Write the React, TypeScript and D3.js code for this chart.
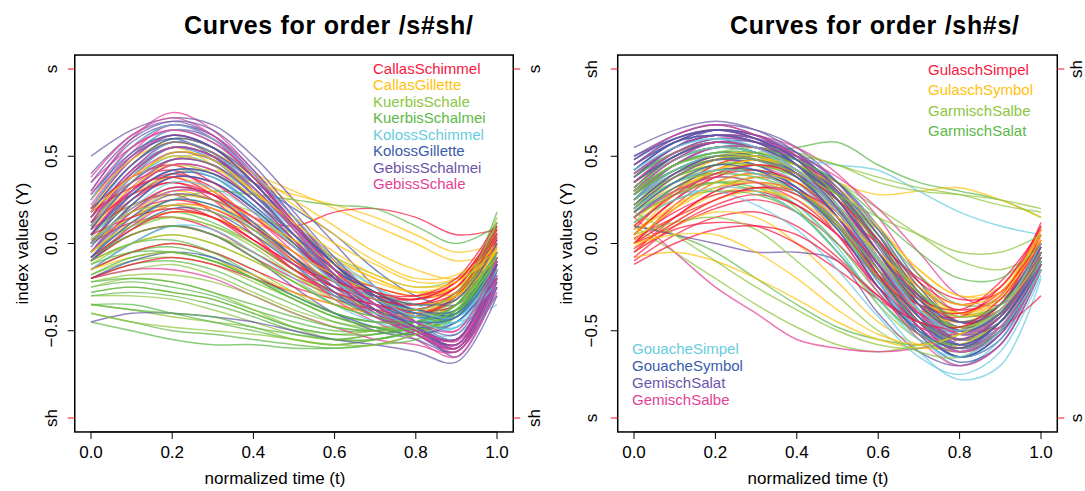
import { useEffect, useRef } from "react";
import * as d3 from "d3";

// normalized time samples
const T_GRID = [0, 0.1, 0.2, 0.3, 0.4, 0.5, 0.6, 0.7, 0.8, 0.9, 1.0];

const WORD_COLORS = [
  "#f8173e", // red
  "#ffc20e", // gold
  "#8dc63f", // yellow-green
  "#5db848", // green
  "#67cbe0", // sky blue
  "#3a5baa", // blue
  "#6a55a8", // purple
  "#e43f96", // pink
];

const SSH_WORDS = [
  "CallasSchimmel",
  "CallasGillette",
  "KuerbisSchale",
  "KuerbisSchalmei",
  "KolossSchimmel",
  "KolossGillette",
  "GebissSchalmei",
  "GebissSchale",
];

const SHS_WORDS = [
  "GulaschSimpel",
  "GulaschSymbol",
  "GarmischSalbe",
  "GarmischSalat",
  "GouacheSimpel",
  "GouacheSymbol",
  "GemischSalat",
  "GemischSalbe",
];

// index values x100, one row per token, sampled at T_GRID
const CALLAS_SCHIMMEL = [
  [5, 25, 35, 25, 5, -15, -30, -38, -42, -30, 5],
  [-5, 15, 22, 15, 0, -15, -25, -32, -35, -25, 8],
  [10, 30, 40, 32, 12, -8, -22, -30, -35, -28, 2],
  [0, 12, 15, 8, -5, -18, -28, -35, -38, -28, 6],
  [15, 35, 42, 30, 15, 10, 18, 20, 15, 5, 8],
  [-10, 5, 10, 5, -8, -20, -30, -35, -40, -32, 0],
  [8, 22, 28, 18, 2, -12, -25, -30, -32, -25, 10],
  [-15, -5, 0, -5, -15, -25, -32, -38, -40, -30, -2],
  [20, 38, 45, 35, 18, -2, -20, -30, -32, -22, 5],
  [2, 18, 25, 20, 8, -8, -22, -28, -38, -35, 3],
  [-20, -12, -8, -12, -20, -28, -35, -40, -42, -30, 0],
  [12, 28, 35, 28, 10, -5, -18, -25, -30, -22, 10],
  [0, 20, 32, 28, 15, -2, -18, -28, -30, -20, 12],
  [-8, 8, 18, 15, 2, -15, -28, -35, -38, -28, 4],
  [18, 32, 38, 28, 10, -10, -25, -32, -35, -25, 6],
  [5, 15, 20, 15, 2, -12, -22, -28, -32, -22, 8],
];
const CALLAS_GILLETTE = [
  [10, 30, 48, 50, 40, 30, 20, 10, 0, -10, -5],
  [5, 25, 40, 42, 35, 28, 22, 15, 5, -5, 0],
  [0, 20, 30, 25, 10, -5, -20, -28, -32, -25, -5],
  [15, 40, 55, 45, 25, 5, -15, -25, -30, -25, -2],
  [-5, 10, 18, 15, 5, -10, -22, -30, -35, -30, -8],
  [20, 45, 60, 55, 40, 25, 10, -5, -15, -20, -5],
  [-10, 0, 5, 0, -10, -22, -32, -38, -42, -35, -10],
  [8, 28, 38, 30, 15, 0, -15, -25, -30, -28, -3],
  [0, 15, 25, 22, 12, 2, -10, -20, -28, -25, -8],
  [12, 35, 52, 48, 30, 10, -8, -20, -28, -25, -4],
  [-15, -8, -5, -10, -18, -28, -35, -40, -40, -30, -5],
  [10, 32, 45, 40, 28, 15, 0, -12, -22, -20, 0],
  [25, 48, 58, 52, 38, 22, 5, -10, -20, -18, -2],
  [2, 18, 28, 25, 15, 2, -12, -22, -28, -22, -6],
  [-5, 12, 22, 20, 10, -5, -18, -28, -35, -30, -8],
  [18, 38, 50, 45, 30, 12, -5, -18, -25, -22, -3],
];
const KUERBIS_SCHALE = [
  [-20, -15, -12, -18, -28, -38, -45, -48, -45, -35, -5],
  [-10, 5, 10, 5, -5, -18, -30, -38, -42, -35, -8],
  [-30, -30, -32, -38, -45, -52, -55, -52, -48, -38, -10],
  [0, 15, 20, 15, 5, -10, -25, -35, -40, -30, 15],
  [-25, -20, -22, -28, -38, -48, -55, -55, -50, -40, -12],
  [-15, -5, 0, -5, -15, -28, -40, -45, -42, -30, 10],
  [5, 22, 28, 25, 18, 5, -8, -18, -25, -20, 5],
  [-35, -38, -42, -45, -48, -55, -58, -55, -50, -40, -15],
  [-18, -10, -8, -12, -22, -32, -42, -48, -48, -38, -8],
  [-8, 8, 15, 10, 0, -15, -28, -38, -45, -38, 12],
  [-28, -25, -28, -32, -40, -48, -52, -50, -45, -35, -8],
  [-12, 0, 5, 0, -10, -22, -35, -42, -45, -35, 5],
  [-5, 10, 15, 10, -2, -18, -32, -40, -42, -32, 8],
  [-22, -18, -18, -22, -30, -40, -48, -50, -48, -38, -10],
  [-40, -45, -48, -50, -52, -55, -58, -58, -52, -42, -15],
  [2, 18, 22, 18, 8, -8, -22, -32, -38, -28, 12],
];
const KUERBIS_SCHALMEI = [
  [-25, -22, -25, -30, -38, -45, -50, -50, -45, -35, -8],
  [-40, -45, -50, -52, -55, -58, -60, -58, -52, -40, -12],
  [-15, -5, -2, -8, -20, -32, -42, -48, -48, -38, -10],
  [-5, 10, 18, 12, 0, -15, -28, -38, -40, -30, 18],
  [-30, -28, -30, -35, -42, -50, -55, -52, -48, -38, -5],
  [-20, -12, -10, -15, -25, -35, -45, -50, -52, -40, -10],
  [0, 15, 25, 30, 28, 25, 22, 20, 10, 0, 10],
  [-35, -35, -40, -45, -50, -55, -58, -55, -50, -42, -15],
  [-10, 0, 2, -5, -18, -30, -40, -45, -45, -35, -5],
  [-45, -50, -55, -58, -58, -60, -60, -58, -55, -42, -18],
  [-18, -8, -5, -10, -20, -32, -42, -48, -50, -40, -8],
  [-28, -25, -28, -32, -40, -48, -52, -52, -48, -38, -10],
  [-8, 5, 10, 5, -8, -22, -35, -42, -45, -35, 12],
  [-35, -38, -40, -42, -48, -52, -55, -55, -50, -40, -12],
  [-12, -5, -5, -10, -20, -30, -40, -45, -45, -35, -5],
  [-22, -20, -22, -28, -35, -42, -48, -50, -48, -38, -8],
];
const KOLOSS_SCHIMMEL = [
  [10, 35, 50, 45, 25, 0, -20, -35, -42, -45, -35],
  [0, 25, 40, 38, 20, -2, -22, -35, -45, -48, -30],
  [15, 45, 60, 55, 35, 10, -12, -28, -38, -42, -20],
  [-10, 10, 25, 22, 8, -12, -30, -42, -50, -52, -25],
  [5, 30, 45, 40, 22, 0, -20, -32, -40, -45, -10],
  [20, 50, 65, 58, 38, 12, -10, -25, -35, -40, -15],
  [-5, 15, 30, 28, 12, -8, -28, -40, -48, -55, -30],
  [8, 38, 55, 48, 30, 8, -15, -30, -40, -42, -8],
  [-15, 0, 10, 8, -5, -20, -35, -45, -50, -48, -20],
  [12, 40, 58, 52, 32, 5, -18, -32, -42, -45, -5],
  [3, 28, 42, 38, 20, -2, -22, -35, -42, -40, -12],
  [18, 45, 58, 52, 32, 8, -15, -30, -40, -42, -18],
  [-8, 12, 25, 22, 8, -12, -30, -40, -45, -42, -15],
  [10, 35, 50, 45, 28, 5, -18, -32, -42, -45, -22],
  [25, 55, 68, 60, 40, 15, -8, -25, -38, -42, -10],
  [0, 20, 35, 32, 18, -2, -22, -35, -45, -48, -15],
];
const KOLOSS_GILLETTE = [
  [10, 38, 55, 50, 30, 5, -18, -32, -40, -38, -5],
  [5, 30, 48, 45, 28, 5, -15, -30, -38, -40, -10],
  [20, 48, 62, 55, 35, 10, -15, -30, -38, -35, 0],
  [-5, 18, 32, 28, 12, -8, -28, -40, -45, -40, -8],
  [15, 42, 58, 52, 32, 10, -12, -28, -38, -40, -12],
  [0, 25, 40, 38, 22, 2, -18, -32, -42, -42, -5],
  [25, 50, 60, 50, 30, 5, -15, -28, -35, -30, 2],
  [-10, 8, 20, 18, 5, -12, -30, -42, -48, -45, -15],
  [8, 35, 52, 48, 35, 20, 5, -15, -30, -35, -8],
  [-20, -10, -5, -8, -18, -30, -40, -48, -52, -45, -20],
  [12, 40, 55, 50, 32, 8, -15, -30, -40, -40, -8],
  [-2, 22, 38, 35, 20, 0, -20, -35, -42, -40, -10],
  [18, 45, 60, 55, 38, 12, -12, -28, -38, -38, -5],
  [5, 28, 42, 40, 25, 5, -15, -30, -40, -42, -12],
  [28, 52, 62, 55, 35, 10, -12, -28, -35, -32, 0],
  [-8, 12, 25, 22, 10, -8, -25, -38, -45, -42, -12],
];
const GEBISS_SCHALMEI = [
  [40, 62, 70, 62, 40, 12, -15, -35, -50, -55, -10],
  [20, 50, 65, 60, 40, 15, -10, -30, -45, -55, -15],
  [10, 40, 55, 50, 32, 8, -18, -38, -52, -60, -20],
  [50, 65, 72, 68, 50, 25, 0, -25, -45, -65, -25],
  [-5, 22, 38, 35, 20, 0, -22, -40, -52, -62, -18],
  [15, 42, 55, 48, 28, 5, -20, -38, -50, -55, -8],
  [-15, 0, 10, 5, -8, -25, -40, -50, -55, -62, -25],
  [25, 55, 68, 60, 38, 12, -12, -32, -48, -58, -12],
  [5, 30, 45, 42, 25, 2, -22, -40, -50, -58, -15],
  [-45, -40, -40, -42, -45, -50, -55, -58, -62, -68, -30],
  [30, 58, 68, 62, 42, 15, -12, -32, -48, -58, -18],
  [0, 28, 42, 40, 25, 2, -20, -38, -50, -58, -20],
  [18, 45, 58, 52, 35, 10, -15, -35, -48, -60, -15],
  [-8, 15, 28, 25, 12, -8, -28, -42, -52, -60, -22],
  [35, 60, 70, 65, 45, 18, -8, -30, -45, -52, -10],
  [8, 35, 48, 45, 28, 5, -18, -35, -48, -55, -12],
];
const GEBISS_SCHALE = [
  [30, 60, 75, 65, 42, 15, -12, -32, -45, -60, -15],
  [10, 38, 52, 48, 30, 5, -20, -38, -50, -62, -20],
  [20, 48, 62, 55, 35, 10, -15, -35, -48, -58, -10],
  [0, 25, 38, 35, 20, 0, -22, -40, -50, -55, -12],
  [35, 55, 65, 58, 40, 15, -10, -30, -42, -50, -5],
  [-10, 10, 22, 20, 8, -12, -32, -45, -55, -65, -22],
  [15, 42, 58, 52, 32, 8, -18, -35, -48, -58, -15],
  [-20, -15, -15, -20, -30, -40, -48, -55, -58, -62, -28],
  [5, 32, 48, 45, 28, 5, -18, -35, -48, -55, -10],
  [25, 52, 68, 60, 38, 12, -15, -35, -48, -56, -18],
  [22, 50, 62, 55, 35, 8, -18, -38, -50, -60, -18],
  [5, 30, 45, 42, 25, 2, -22, -40, -52, -58, -15],
  [38, 62, 72, 62, 40, 12, -15, -35, -48, -55, -12],
  [-5, 18, 30, 28, 15, -5, -25, -42, -52, -60, -20],
  [12, 40, 55, 50, 32, 8, -18, -38, -50, -55, -10],
  [28, 55, 65, 58, 38, 10, -15, -35, -45, -50, -8],
];

const GULASCH_SIMPEL = [
  [0, 20, 35, 40, 30, 5, -25, -45, -50, -35, 5],
  [-5, 15, 30, 38, 32, 12, -18, -40, -48, -38, 0],
  [5, 25, 42, 48, 40, 18, -12, -35, -45, -35, 8],
  [0, 10, 20, 25, 18, 0, -25, -45, -55, -42, -5],
  [-10, 5, 15, 18, 10, -8, -30, -48, -52, -40, -8],
  [8, 30, 45, 50, 45, 28, 0, -25, -38, -30, 10],
  [2, 18, 28, 30, 22, 5, -18, -35, -40, -30, 12],
  [-5, 8, 12, 10, 0, -15, -32, -45, -50, -48, -30],
  [0, 22, 38, 45, 40, 22, -5, -30, -45, -40, 2],
  [3, 15, 25, 32, 30, 18, 0, -20, -32, -28, 5],
  [-8, 10, 22, 28, 22, 5, -20, -38, -42, -25, 5],
  [5, 25, 38, 42, 35, 15, -12, -32, -38, -22, 8],
  [0, 15, 30, 35, 30, 12, -15, -35, -40, -28, 2],
  [-3, 12, 25, 32, 28, 10, -18, -40, -48, -35, -2],
  [10, 28, 40, 45, 40, 25, 2, -22, -35, -25, 10],
  [-12, 0, 8, 10, 5, -10, -30, -45, -48, -32, 0],
];
const GULASCH_SYMBOL = [
  [5, 25, 40, 45, 38, 20, -8, -30, -42, -35, 0],
  [10, 30, 45, 50, 45, 35, 28, 30, 32, 25, 15],
  [0, 15, 28, 32, 25, 5, -20, -40, -48, -38, -5],
  [15, 35, 48, 52, 45, 25, -5, -30, -45, -40, -2],
  [-5, 10, 18, 15, 0, -22, -45, -58, -60, -45, -10],
  [8, 20, 32, 38, 35, 25, 8, -15, -30, -28, 5],
  [20, 40, 50, 52, 42, 20, -10, -35, -48, -42, -5],
  [-8, -5, -10, -20, -32, -45, -55, -60, -58, -45, -12],
  [5, 28, 42, 48, 42, 25, 0, -25, -40, -38, 2],
  [12, 32, 42, 45, 38, 20, -5, -28, -40, -32, 8],
  [2, 20, 35, 40, 35, 18, -10, -32, -40, -30, 2],
  [10, 30, 42, 48, 45, 32, 10, -15, -30, -25, 5],
  [-2, 12, 25, 30, 25, 8, -18, -38, -45, -35, -5],
  [18, 38, 48, 50, 42, 22, -8, -32, -42, -32, 2],
  [5, 22, 32, 35, 30, 15, -5, -25, -35, -28, 8],
  [0, 5, 5, -5, -20, -38, -52, -58, -52, -38, -8],
];
const GARMISCH_SALBE = [
  [25, 40, 48, 50, 45, 35, 20, 5, -10, -15, -5],
  [20, 35, 45, 48, 50, 45, 35, 30, 28, 25, 20],
  [30, 42, 50, 48, 38, 15, -15, -40, -52, -42, -8],
  [10, -5, -20, -35, -48, -58, -62, -58, -50, -38, -10],
  [15, 30, 40, 42, 35, 15, -15, -40, -55, -45, -10],
  [35, 48, 55, 55, 48, 30, 5, -25, -45, -40, -12],
  [18, 32, 38, 35, 20, -5, -35, -55, -62, -50, -15],
  [28, 45, 52, 55, 52, 45, 38, 32, 28, 22, 18],
  [22, 38, 45, 45, 38, 20, -8, -35, -50, -40, -10],
  [5, 12, 15, 8, -10, -30, -50, -62, -65, -50, -15],
  [28, 42, 50, 50, 42, 25, -5, -32, -48, -40, -8],
  [15, 28, 35, 35, 28, 10, -18, -42, -55, -45, -12],
  [32, 48, 55, 52, 42, 22, -8, -35, -48, -38, -5],
  [22, 35, 40, 38, 30, 12, -15, -38, -48, -38, -8],
  [18, 5, -10, -25, -38, -50, -58, -60, -52, -40, -10],
  [30, 45, 50, 48, 40, 28, 15, 5, -5, -5, 5],
];
const GARMISCH_SALAT = [
  [25, 42, 50, 52, 55, 58, 45, 35, 30, 25, 15],
  [30, 45, 52, 50, 40, 20, -10, -35, -50, -42, -10],
  [20, 35, 42, 42, 35, 18, -10, -38, -52, -45, -12],
  [35, 50, 58, 55, 45, 25, -5, -32, -48, -38, -5],
  [15, 28, 35, 32, 22, 0, -28, -50, -58, -48, -12],
  [10, 5, -5, -20, -35, -48, -55, -58, -52, -40, -10],
  [28, 42, 48, 48, 42, 28, 5, -22, -40, -35, -2],
  [40, 52, 58, 55, 45, 28, 2, -28, -45, -38, -5],
  [22, 40, 48, 50, 45, 30, 8, -18, -35, -32, -8],
  [18, 30, 35, 30, 18, -5, -32, -52, -60, -50, -15],
  [32, 48, 55, 52, 42, 22, -8, -35, -50, -40, -8],
  [25, 38, 45, 45, 38, 20, -8, -35, -48, -40, -10],
  [12, 25, 30, 28, 18, -5, -32, -52, -58, -45, -12],
  [38, 52, 58, 55, 48, 35, 15, -5, -20, -20, 0],
  [20, 35, 42, 40, 30, 10, -20, -45, -55, -42, -8],
  [28, 45, 52, 52, 45, 28, 0, -28, -42, -35, -5],
];
const GOUACHE_SIMPEL = [
  [30, 45, 50, 45, 32, 10, -20, -45, -60, -45, -10],
  [20, 38, 48, 48, 40, 20, -10, -40, -60, -50, -15],
  [35, 52, 58, 52, 38, 12, -22, -52, -70, -55, -12],
  [25, 40, 48, 50, 48, 45, 42, 30, 18, 10, 5],
  [15, 30, 38, 35, 22, -2, -35, -62, -78, -70, -20],
  [28, 45, 52, 48, 35, 12, -18, -45, -62, -50, -8],
  [40, 55, 60, 55, 40, 15, -15, -42, -58, -45, -5],
  [22, 35, 40, 38, 28, 8, -22, -50, -65, -55, -15],
  [32, 48, 55, 52, 40, 18, -12, -42, -58, -48, -10],
  [18, 28, 30, 22, 8, -15, -42, -65, -75, -62, -18],
  [25, 42, 50, 48, 38, 15, -15, -42, -55, -42, -5],
  [38, 52, 58, 55, 42, 18, -12, -40, -52, -40, -2],
  [12, 25, 32, 30, 18, -5, -32, -55, -65, -50, -15],
  [30, 48, 55, 52, 42, 22, -8, -38, -52, -42, -8],
  [20, 35, 42, 40, 30, 8, -22, -50, -62, -48, -10],
  [42, 55, 60, 55, 42, 20, -10, -38, -50, -38, 0],
];
const GOUACHE_SYMBOL = [
  [35, 50, 58, 55, 42, 18, -15, -45, -62, -50, -10],
  [25, 45, 55, 52, 40, 18, -12, -42, -60, -48, -12],
  [40, 55, 62, 58, 45, 20, -12, -40, -55, -42, -5],
  [30, 45, 52, 50, 42, 22, -8, -38, -55, -45, -8],
  [45, 58, 65, 60, 45, 20, -12, -42, -58, -48, -10],
  [20, 38, 48, 45, 32, 8, -25, -52, -68, -58, -15],
  [38, 52, 58, 55, 48, 35, 10, -22, -45, -40, -5],
  [28, 42, 50, 48, 38, 15, -18, -48, -65, -52, -12],
  [50, 60, 65, 62, 50, 28, 0, -30, -50, -42, -5],
  [15, 32, 42, 42, 32, 10, -22, -50, -65, -52, -10],
  [30, 48, 55, 52, 40, 15, -15, -42, -55, -42, -8],
  [42, 58, 62, 58, 45, 22, -8, -35, -48, -35, 0],
  [22, 40, 50, 48, 38, 15, -18, -45, -58, -45, -10],
  [48, 60, 65, 60, 48, 25, -5, -32, -45, -35, -2],
  [35, 50, 58, 55, 45, 25, -5, -35, -50, -40, -5],
  [18, 35, 45, 42, 30, 8, -25, -50, -60, -45, -12],
];
const GEMISCH_SALAT = [
  [40, 55, 62, 60, 48, 25, -5, -38, -58, -48, -8],
  [30, 48, 58, 55, 45, 22, -10, -42, -62, -50, -10],
  [48, 62, 68, 65, 55, 35, 5, -28, -52, -45, -5],
  [25, 42, 50, 48, 38, 15, -18, -48, -65, -55, -12],
  [35, 52, 60, 58, 50, 32, 0, -35, -55, -48, -8],
  [45, 58, 62, 58, 45, 20, -15, -48, -65, -52, -10],
  [10, 5, 0, -5, -5, -10, -40, -62, -70, -58, -15],
  [38, 55, 65, 62, 52, 30, -2, -35, -58, -50, -10],
  [28, 45, 55, 55, 48, 30, 2, -30, -50, -45, -5],
  [50, 62, 68, 62, 48, 22, -12, -45, -62, -50, -10],
  [42, 58, 65, 62, 50, 28, -5, -38, -55, -42, -5],
  [32, 50, 58, 58, 50, 32, 5, -28, -48, -40, -5],
  [55, 65, 70, 65, 52, 30, 0, -32, -50, -40, -2],
  [20, 38, 48, 48, 40, 20, -12, -42, -58, -45, -10],
  [38, 55, 62, 60, 52, 35, 8, -25, -45, -38, -5],
  [45, 60, 65, 60, 45, 20, -12, -42, -55, -42, -8],
];
const GEMISCH_SALBE = [
  [35, 52, 60, 58, 45, 22, -10, -42, -60, -50, -8],
  [25, 40, 48, 45, 35, 12, -20, -50, -65, -55, -12],
  [42, 58, 65, 62, 55, 40, 15, -18, -40, -38, -5],
  [15, -5, -25, -40, -55, -60, -62, -60, -55, -45, -12],
  [30, 48, 55, 52, 40, 18, -15, -45, -62, -50, -10],
  [38, 55, 62, 58, 48, 28, -5, -38, -58, -48, -8],
  [18, 35, 42, 40, 30, 8, -25, -55, -70, -58, -15],
  [45, 60, 65, 60, 48, 25, -8, -40, -58, -45, -5],
  [28, 45, 55, 55, 50, 38, 20, -5, -30, -35, -10],
  [32, 50, 58, 55, 42, 18, -15, -45, -62, -52, -15],
  [40, 55, 62, 60, 50, 30, 0, -32, -50, -40, -5],
  [22, 40, 50, 48, 38, 15, -18, -48, -60, -45, -10],
  [48, 62, 68, 62, 50, 25, -8, -38, -52, -40, -2],
  [30, 48, 58, 55, 45, 25, -5, -35, -52, -42, -8],
  [35, 52, 58, 55, 42, 20, -12, -40, -55, -42, -5],
  [15, 30, 38, 35, 25, 5, -28, -52, -62, -48, -12],
];

const SSH_CURVES = [
  CALLAS_SCHIMMEL, CALLAS_GILLETTE, KUERBIS_SCHALE, KUERBIS_SCHALMEI,
  KOLOSS_SCHIMMEL, KOLOSS_GILLETTE, GEBISS_SCHALMEI, GEBISS_SCHALE,
];
const SHS_CURVES = [
  GULASCH_SIMPEL, GULASCH_SYMBOL, GARMISCH_SALBE, GARMISCH_SALAT,
  GOUACHE_SIMPEL, GOUACHE_SYMBOL, GEMISCH_SALAT, GEMISCH_SALBE,
];

const X_TICKS = [0, 0.2, 0.4, 0.6, 0.8, 1.0];
const Y_TICKS = [-0.5, 0, 0.5];

const FONT = "'Liberation Sans', Arial, Helvetica, sans-serif";

type LegendBlock = { words: number[]; x: number; y: number; step: number };

type PanelSpec = {
  title: string;
  words: string[];
  curves: number[][][];
  xRange: [number, number];
  titleX: number;
  xLabelX: number;
  topLabel: string;
  bottomLabel: string;
  yLabelX: number;
  tickLabelX: number;
  rightLabelX: number;
  legends: LegendBlock[];
};

const PANELS: PanelSpec[] = [
  {
    title: "Curves for order /s#sh/",
    words: SSH_WORDS,
    curves: SSH_CURVES,
    xRange: [91, 497],
    titleX: 184,
    xLabelX: 275,
    topLabel: "s",
    bottomLabel: "sh",
    yLabelX: 28,
    tickLabelX: 57,
    rightLabelX: 540,
    legends: [{ words: [0, 1, 2, 3, 4, 5, 6, 7], x: 373, y: 74, step: 16.45 }],
  },
  {
    title: "Curves for order /sh#s/",
    words: SHS_WORDS,
    curves: SHS_CURVES,
    xRange: [634, 1041],
    titleX: 730,
    xLabelX: 818,
    topLabel: "sh",
    bottomLabel: "s",
    yLabelX: 572,
    tickLabelX: 597,
    rightLabelX: 1082,
    legends: [
      { words: [0, 1, 2, 3], x: 928, y: 75, step: 20.3 },
      { words: [4, 5, 6, 7], x: 632, y: 353.5, step: 17.3 },
    ],
  },
];

function drawPanel(svg: d3.Selection<SVGSVGElement, unknown, null, undefined>, p: PanelSpec) {
  const x = d3.scaleLinear().domain([0, 1]).range(p.xRange);
  const y = d3.scaleLinear().domain([-1, 1]).range([418, 69]);
  const x0 = x(-0.04);
  const x1 = x(1.04);
  const yTop = y(1.08);
  const yBot = y(-1.08);

  const g = svg.append("g");

  // curves, interleaved so colours mix like the original
  const line = d3
    .line<number>()
    .x((_, i) => x(T_GRID[i]))
    .y((v) => y(v / 100))
    .curve(d3.curveCatmullRom.alpha(0.5));

  const items: { w: number; vals: number[] }[] = [];
  const nMax = d3.max(p.curves, (c) => c.length) || 0;
  for (let i = 0; i < nMax; i++) {
    p.curves.forEach((c, w) => {
      if (c[i]) items.push({ w, vals: c[i] });
    });
  }
  g.append("g")
    .selectAll("path")
    .data(items)
    .enter()
    .append("path")
    .attr("d", (d) => line(d.vals) || "")
    .attr("fill", "none")
    .attr("stroke", (d) => WORD_COLORS[d.w])
    .attr("stroke-width", 1.45)
    .attr("stroke-opacity", 0.72);

  // box
  g.append("rect")
    .attr("x", x0)
    .attr("y", yTop)
    .attr("width", x1 - x0)
    .attr("height", yBot - yTop)
    .attr("fill", "none")
    .attr("stroke", "#000")
    .attr("stroke-width", 1.5);

  // x axis
  g.selectAll("line.xt")
    .data(X_TICKS)
    .enter()
    .append("line")
    .attr("x1", (d) => x(d))
    .attr("x2", (d) => x(d))
    .attr("y1", yBot)
    .attr("y2", yBot + 7)
    .attr("stroke", "#000");
  g.append("line")
    .attr("x1", x(0))
    .attr("x2", x(1))
    .attr("y1", yBot)
    .attr("y2", yBot)
    .attr("stroke", "#000");
  g.selectAll("text.xt")
    .data(X_TICKS)
    .enter()
    .append("text")
    .attr("x", (d) => x(d))
    .attr("y", 458)
    .attr("text-anchor", "middle")
    .attr("font-family", FONT)
    .attr("font-size", 17)
    .text((d) => d3.format(".1f")(d));
  g.append("text")
    .attr("x", p.xLabelX)
    .attr("y", 484)
    .attr("text-anchor", "middle")
    .attr("font-family", FONT)
    .attr("font-size", 17)
    .text("normalized time (t)");

  // y axis
  g.selectAll("line.yt")
    .data(Y_TICKS)
    .enter()
    .append("line")
    .attr("x1", x0 - 7)
    .attr("x2", x0)
    .attr("y1", (d) => y(d))
    .attr("y2", (d) => y(d))
    .attr("stroke", "#000");
  g.selectAll("text.yt")
    .data(Y_TICKS)
    .enter()
    .append("text")
    .attr("transform", (d) => `translate(${p.tickLabelX},${y(d)}) rotate(-90)`)
    .attr("text-anchor", "middle")
    .attr("font-family", FONT)
    .attr("font-size", 17)
    .text((d) => d3.format(".1f")(d).replace("-", "\u2212"));
  g.append("text")
    .attr("transform", `translate(${p.yLabelX},${y(0)}) rotate(-90)`)
    .attr("text-anchor", "middle")
    .attr("font-family", FONT)
    .attr("font-size", 17)
    .text("index values (Y)");

  // red category ticks on both sides
  const cats = [
    { v: 1, label: p.topLabel },
    { v: -1, label: p.bottomLabel },
  ];
  cats.forEach((c) => {
    g.append("line")
      .attr("x1", x0 - 7)
      .attr("x2", x0)
      .attr("y1", y(c.v))
      .attr("y2", y(c.v))
      .attr("stroke", "#f01020");
    g.append("line")
      .attr("x1", x1)
      .attr("x2", x1 + 7)
      .attr("y1", y(c.v))
      .attr("y2", y(c.v))
      .attr("stroke", "#f01020");
    [p.tickLabelX, p.rightLabelX].forEach((lx) => {
      g.append("text")
        .attr("transform", `translate(${lx},${y(c.v)}) rotate(-90)`)
        .attr("text-anchor", "middle")
        .attr("font-family", FONT)
        .attr("font-size", 17)
        .text(c.label);
    });
  });

  // legends
  p.legends.forEach((lg) => {
    g.selectAll(null)
      .data(lg.words)
      .enter()
      .append("text")
      .attr("x", lg.x)
      .attr("y", (_, i) => lg.y + i * lg.step)
      .attr("font-family", FONT)
      .attr("font-size", 15)
      .attr("fill", (w) => WORD_COLORS[w])
      .text((w) => p.words[w]);
  });

  // title
  g.append("text")
    .attr("x", p.titleX)
    .attr("y", 34)
    .attr("font-family", FONT)
    .attr("font-size", 25)
    .attr("font-weight", "bold")
    .attr("textLength", 289)
    .attr("lengthAdjust", "spacing")
    .text(p.title);
}

export default function App() {
  const svgRef = useRef<SVGSVGElement | null>(null);

  useEffect(() => {
    if (!svgRef.current) return;
    const svg = d3.select(svgRef.current);
    svg.selectAll("*").remove();
    svg.append("rect").attr("width", 1085).attr("height", 491).attr("fill", "#fff");
    PANELS.forEach((p) => drawPanel(svg, p));
  }, []);

  return (
    <svg
      ref={svgRef}
      width={1085}
      height={491}
      style={{ position: "absolute", left: 0, top: 0 }}
    />
  );
}
